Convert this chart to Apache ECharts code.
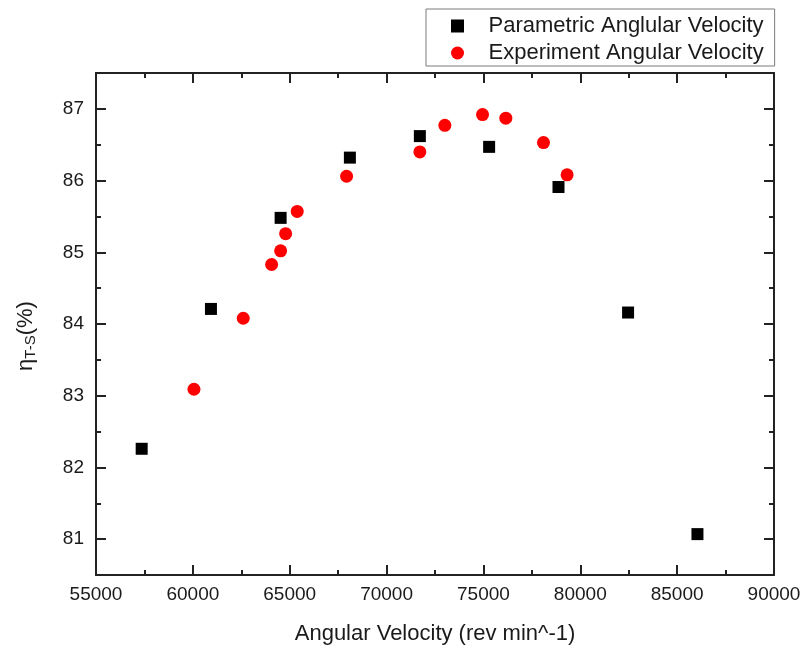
<!DOCTYPE html>
<html>
<head>
<meta charset="utf-8">
<script src="https://cdn.jsdelivr.net/npm/echarts@6/dist/echarts.min.js"></script>
<style>
  html, body { margin: 0; padding: 0; background: #fff; }
  #chart { width: 805px; height: 650px; }
</style>
</head>
<body>
<div id="chart"></div>
<script>
// values
var paramSpeed = [57358, 60934, 64531, 68106, 71718, 75294, 78875, 82467, 86048];
var paramEff   = [82.26, 84.21, 85.48, 86.32, 86.62, 86.47, 85.91, 84.16, 81.07];
var expSpeed = [60057, 62601, 64066, 64531, 64789, 65387, 67936, 71718, 73008, 74954, 76156, 78101, 79319];
var expEff   = [83.09, 84.08, 84.83, 85.02, 85.26, 85.57, 86.06, 86.40, 86.77, 86.92, 86.87, 86.53, 86.08];

var xTicks = [55000, 90000, 5000];   // min, max, step
var yTicks = [80.5, 87.5];

function pairs(xs, ys) {
    var out = [];
    for (var i = 0; i < xs.length; i++) out.push([xs[i], ys[i]]);
    return out;
}

var FONT = 'Liberation Sans, Arial, sans-serif';
var LINE = '#222';
var TXT = '#1a1a1a';
var SQUARE = 'path://M0,0h10v10h-10z';

var chart = echarts.init(document.getElementById('chart'));

function frameAxis(pos, isX) {
    var ax = {
        type: 'value',
        position: pos,
        min: isX ? xTicks[0] : yTicks[0],
        max: isX ? xTicks[1] : yTicks[1],
        axisLine: { show: true, onZero: false, lineStyle: { color: LINE, width: 2 } },
        axisTick: { show: true, inside: true, length: 10, lineStyle: { color: LINE, width: 2 } },
        minorTick: { show: true, splitNumber: 2, length: 5, lineStyle: { color: LINE, width: 2 } },
        splitLine: { show: false },
        axisLabel: { show: false }
    };
    if (isX) ax.interval = xTicks[2];
    else ax.splitNumber = 7;
    return ax;
}

var xBottom = frameAxis('bottom', true);
xBottom.axisLabel = {
    show: true, margin: 10, color: TXT, fontSize: 19, fontFamily: FONT,
    formatter: function (v) { return String(v); }
};
xBottom.name = 'Angular Velocity (rev min^-1)';
xBottom.nameLocation = 'middle';
xBottom.nameGap = 48;
xBottom.nameTextStyle = { fontSize: 22, color: TXT, fontFamily: FONT };

var yLeft = frameAxis('left', false);
yLeft.axisLabel = {
    show: true, margin: 12, color: TXT, fontSize: 19, fontFamily: FONT,
    formatter: function (v) { return (Math.abs(v - Math.round(v)) < 1e-6) ? String(Math.round(v)) : ''; }
};
yLeft.name = '{a|η}{b|T-S}{a|(%)}';
yLeft.nameLocation = 'middle';
yLeft.nameRotate = 90;
yLeft.nameGap = 58;
yLeft.nameTextStyle = {
    fontFamily: FONT, color: TXT,
    padding: [0, 24, 0, 0],
    rich: {
        a: { fontSize: 22, fontFamily: FONT, color: TXT },
        b: { fontSize: 15, fontFamily: FONT, color: TXT, padding: [10, 0, 0, 0] }
    }
};

chart.setOption({
    backgroundColor: '#fff',
    animation: false,
    textStyle: { fontFamily: FONT },
    grid: { left: 96, right: 31, top: 73, bottom: 75, containLabel: false },
    legend: {
        left: 426,
        top: 9,
        orient: 'vertical',
        itemWidth: 20,
        itemHeight: 13,
        itemGap: 5,
        padding: [6, 11, 2, 25],
        borderColor: '#7a7a7a',
        borderWidth: 1,
        textStyle: { fontSize: 22, color: TXT, fontFamily: FONT, padding: [0, 0, 0, 16] },
        data: [
            { name: 'Parametric Anglular Velocity', icon: SQUARE },
            { name: 'Experiment Angular Velocity', icon: 'circle' }
        ]
    },
    xAxis: [xBottom, frameAxis('top', true)],
    yAxis: [yLeft, frameAxis('right', false)],
    series: [
        {
            name: 'Parametric Anglular Velocity',
            type: 'scatter',
            symbol: SQUARE,
            symbolSize: 12,
            itemStyle: { color: '#000', opacity: 1 },
            data: pairs(paramSpeed, paramEff)
        },
        {
            name: 'Experiment Angular Velocity',
            type: 'scatter',
            symbol: 'circle',
            symbolSize: 13,
            itemStyle: { color: '#ff0000', opacity: 1 },
            data: pairs(expSpeed, expEff)
        }
    ]
});
</script>
</body>
</html>
